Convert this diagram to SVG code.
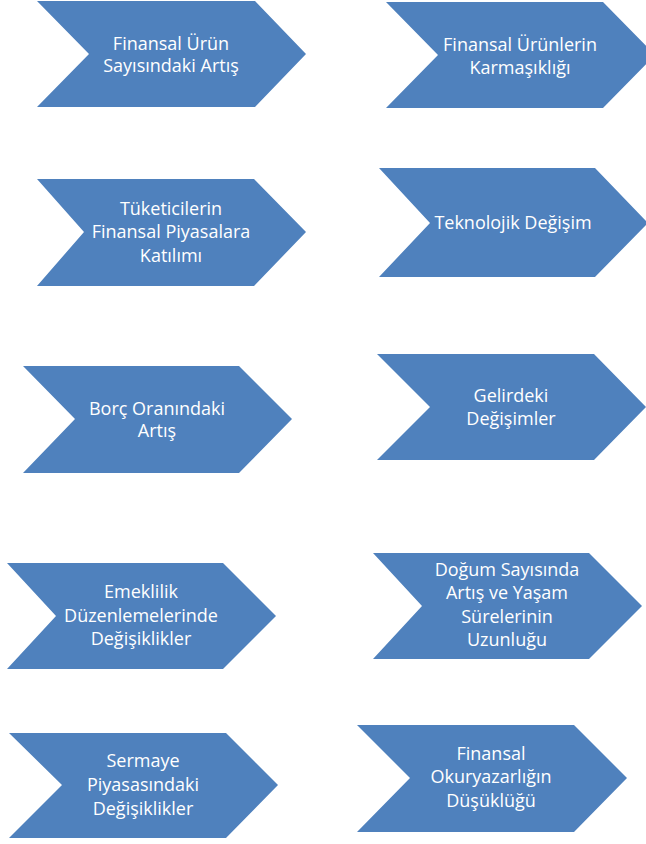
<svg xmlns="http://www.w3.org/2000/svg" width="646" height="844" viewBox="0 0 646 844">
<style>
.ch{fill:#4F81BD;stroke:none}
.t{font-family:"Open Sans","Liberation Sans",sans-serif;font-size:18px;fill:#FFFFFF;text-anchor:middle}
</style>
<rect width="646" height="844" fill="#FFFFFF"/>
<g id="n1"><polygon class="ch" points="37,1 255,1 306,54 255,107 37,107 89,54"/>
<text class="t" x="171" y="50">Finansal Ürün</text><text class="t" x="171" y="72">Sayısındaki Artış</text></g>
<g id="n2"><polygon class="ch" points="386,2 603,2 655,55 603,108 386,108 438,55"/>
<text class="t" x="520" y="51">Finansal Ürünlerin</text><text class="t" x="520" y="74">Karmaşıklığı</text></g>
<g id="n3"><polygon class="ch" points="37,179 254,179 306,232 254,286 37,286 84,232"/>
<text class="t" x="171" y="215">Tüketicilerin</text><text class="t" x="171" y="238">Finansal Piyasalara</text><text class="t" x="171" y="262">Katılımı</text></g>
<g id="n4"><polygon class="ch" points="379,168 595,168 648,223 595,277 379,277 430,223"/>
<text class="t" x="513" y="229">Teknolojik Değişim</text></g>
<g id="n5"><polygon class="ch" points="23,366 239,366 292,419 239,473 23,473 75,419"/>
<text class="t" x="157" y="415">Borç Oranındaki</text><text class="t" x="157" y="437">Artış</text></g>
<g id="n6"><polygon class="ch" points="377,354 594,354 646,407 594,460 377,460 430,407"/>
<text class="t" x="511" y="402">Gelirdeki</text><text class="t" x="511" y="425">Değişimler</text></g>
<g id="n7"><polygon class="ch" points="7,563 223,563 276,616 223,669 7,669 56,616"/>
<text class="t" x="141" y="598">Emeklilik</text><text class="t" x="141" y="622">Düzenlemelerinde</text><text class="t" x="141" y="645">Değişiklikler</text></g>
<g id="n8"><polygon class="ch" points="373,553 589,553 642,606 589,659 373,659 422,606"/>
<text class="t" x="507" y="576">Doğum Sayısında</text><text class="t" x="507" y="599">Artış ve Yaşam</text><text class="t" x="507" y="623">Sürelerinin</text><text class="t" x="507" y="646">Uzunluğu</text></g>
<g id="n9"><polygon class="ch" points="9,733 226,733 278,785 226,838 9,838 62,785"/>
<text class="t" x="143" y="767">Sermaye</text><text class="t" x="143" y="791">Piyasasındaki</text><text class="t" x="143" y="815">Değişiklikler</text></g>
<g id="n10"><polygon class="ch" points="357,725 574,725 627,778 574,832 357,832 410,778"/>
<text class="t" x="491" y="760">Finansal</text><text class="t" x="491" y="783">Okuryazarlığın</text><text class="t" x="491" y="807">Düşüklüğü</text></g>
<g id="connectors"></g>
</svg>
